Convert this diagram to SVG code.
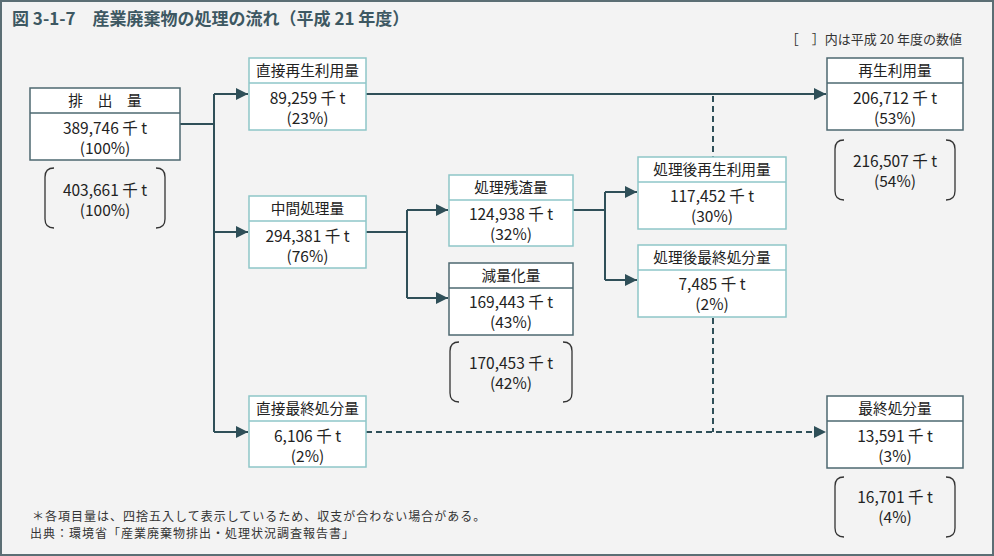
<svg xmlns="http://www.w3.org/2000/svg" width="994" height="556" viewBox="0 0 994 556">
<defs>
<marker id="ah" viewBox="0 0 12 12" refX="12" refY="6" markerWidth="12" markerHeight="12" markerUnits="userSpaceOnUse" orient="auto">
<path d="M0,0 L12,6 L0,12 Z" fill="#2f4f58"/>
</marker>
<style>
text{font-family:"Noto Sans CJK JP","Noto Sans",sans-serif;fill:#222;}
.title{font-size:17px;font-weight:bold;fill:#3d5862;}
.note{font-size:13px;fill:#333;}
.foot{font-size:12px;fill:#333;letter-spacing:1px;}
.hd{font-size:14.7px;text-anchor:middle;}
.v{font-size:15.5px;text-anchor:middle;}
.bl{fill:#fff;stroke:#8ec6c8;stroke-width:1.5;}
.bd{fill:#fff;stroke:#4d6870;stroke-width:1.5;}
.sl{stroke:#8ec6c8;stroke-width:1.5;}
.sd{stroke:#4d6870;stroke-width:1.5;}
.br{fill:none;stroke:#333;stroke-width:1.3;}
.c{fill:none;stroke:#2f4f58;stroke-width:2;}
.d{fill:none;stroke:#2f4f58;stroke-width:2;stroke-dasharray:6,4;}
</style>
</defs>
<rect x="1" y="1" width="992" height="554" fill="#f3f3f3" stroke="#5b6e74" stroke-width="2"/>
<text class="title" x="12" y="25">図 3-1-7　産業廃棄物の処理の流れ（平成 21 年度）</text>
<text class="note" x="962" y="44" text-anchor="end">［　］内は平成 20 年度の数値</text>

<g id="connectors">
<polyline class="c" points="180,124 214,124"/>
<polyline class="c" points="214,94 214,432"/>
<line class="c" x1="214" y1="94" x2="248" y2="94" marker-end="url(#ah)"/>
<line class="c" x1="214" y1="232" x2="248" y2="232" marker-end="url(#ah)"/>
<line class="c" x1="214" y1="432" x2="248" y2="432" marker-end="url(#ah)"/>
<polyline class="c" points="366,232 407,232"/>
<polyline class="c" points="407,210 407,298"/>
<line class="c" x1="407" y1="210" x2="448" y2="210" marker-end="url(#ah)"/>
<line class="c" x1="407" y1="298" x2="448" y2="298" marker-end="url(#ah)"/>
<polyline class="c" points="573,210 605,210"/>
<polyline class="c" points="605,192 605,280"/>
<line class="c" x1="605" y1="192" x2="637" y2="192" marker-end="url(#ah)"/>
<line class="c" x1="605" y1="280" x2="637" y2="280" marker-end="url(#ah)"/>
<line class="c" x1="366" y1="94" x2="826" y2="94" marker-end="url(#ah)"/>
<line class="d" x1="713" y1="96" x2="713" y2="157"/>
<line class="d" x1="713" y1="318" x2="713" y2="432"/>
<line class="d" x1="366" y1="432" x2="826" y2="432" marker-end="url(#ah)"/>
</g>

<g id="haishutsu">
<rect class="bd" x="30" y="88" width="150" height="72"/>
<line class="sd" x1="30" y1="113" x2="180" y2="113"/>
<text class="hd" x="105" y="106">排　出　量</text>
<text class="v" x="105" y="134">389,746 千 t</text>
<text class="v" x="105" y="154">(100%)</text>
</g>
<g id="haishutsu-prev">
<path class="br" d="M54,168 Q45,168 45,177 L45,219 Q45,228 54,228"/>
<path class="br" d="M156,168 Q165,168 165,177 L165,219 Q165,228 156,228"/>
<text class="v" x="105" y="196">403,661 千 t</text>
<text class="v" x="105" y="216">(100%)</text>
</g>

<g id="chokusetsu-saisei">
<rect class="bl" x="249" y="58" width="117" height="72"/>
<line class="sl" x1="249" y1="83" x2="366" y2="83"/>
<text class="hd" x="307.5" y="76">直接再生利用量</text>
<text class="v" x="307.5" y="104">89,259 千 t</text>
<text class="v" x="307.5" y="124">(23%)</text>
</g>

<g id="chukan">
<rect class="bl" x="249" y="196" width="117" height="72"/>
<line class="sl" x1="249" y1="221" x2="366" y2="221"/>
<text class="hd" x="307.5" y="214">中間処理量</text>
<text class="v" x="307.5" y="242">294,381 千 t</text>
<text class="v" x="307.5" y="262">(76%)</text>
</g>

<g id="zansa">
<rect class="bl" x="449" y="175" width="124" height="71"/>
<line class="sl" x1="449" y1="200" x2="573" y2="200"/>
<text class="hd" x="511" y="193">処理残渣量</text>
<text class="v" x="511" y="220">124,938 千 t</text>
<text class="v" x="511" y="240">(32%)</text>
</g>

<g id="genryo">
<rect class="bd" x="449" y="263" width="124" height="72"/>
<line class="sd" x1="449" y1="288" x2="573" y2="288"/>
<text class="hd" x="511" y="281">減量化量</text>
<text class="v" x="511" y="308">169,443 千 t</text>
<text class="v" x="511" y="328">(43%)</text>
</g>
<g id="genryo-prev">
<path class="br" d="M459,342 Q450,342 450,351 L450,393 Q450,402 459,402"/>
<path class="br" d="M563,342 Q572,342 572,351 L572,393 Q572,402 563,402"/>
<text class="v" x="511" y="369">170,453 千 t</text>
<text class="v" x="511" y="389">(42%)</text>
</g>

<g id="shorigo-saisei">
<rect class="bl" x="638" y="157" width="148" height="72"/>
<line class="sl" x1="638" y1="182" x2="786" y2="182"/>
<text class="hd" x="712" y="175">処理後再生利用量</text>
<text class="v" x="712" y="202">117,452 千 t</text>
<text class="v" x="712" y="222">(30%)</text>
</g>

<g id="shorigo-saishu">
<rect class="bl" x="638" y="245" width="148" height="72"/>
<line class="sl" x1="638" y1="270" x2="786" y2="270"/>
<text class="hd" x="712" y="263">処理後最終処分量</text>
<text class="v" x="712" y="290">7,485 千 t</text>
<text class="v" x="712" y="310">(2%)</text>
</g>

<g id="chokusetsu-saishu">
<rect class="bl" x="249" y="396" width="117" height="71"/>
<line class="sl" x1="249" y1="421" x2="366" y2="421"/>
<text class="hd" x="307.5" y="414">直接最終処分量</text>
<text class="v" x="307.5" y="442">6,106 千 t</text>
<text class="v" x="307.5" y="462">(2%)</text>
</g>

<g id="saisei">
<rect class="bd" x="827" y="58" width="136" height="72"/>
<line class="sd" x1="827" y1="83" x2="963" y2="83"/>
<text class="hd" x="895" y="76">再生利用量</text>
<text class="v" x="895" y="104">206,712 千 t</text>
<text class="v" x="895" y="124">(53%)</text>
</g>
<g id="saisei-prev">
<path class="br" d="M844,140 Q835,140 835,149 L835,191 Q835,200 844,200"/>
<path class="br" d="M946,140 Q955,140 955,149 L955,191 Q955,200 946,200"/>
<text class="v" x="895" y="167">216,507 千 t</text>
<text class="v" x="895" y="187">(54%)</text>
</g>

<g id="saishu">
<rect class="bd" x="827" y="396" width="136" height="72"/>
<line class="sd" x1="827" y1="421" x2="963" y2="421"/>
<text class="hd" x="895" y="414">最終処分量</text>
<text class="v" x="895" y="442">13,591 千 t</text>
<text class="v" x="895" y="462">(3%)</text>
</g>
<g id="saishu-prev">
<path class="br" d="M844,477 Q835,477 835,486 L835,528 Q835,537 844,537"/>
<path class="br" d="M946,477 Q955,477 955,486 L955,528 Q955,537 946,537"/>
<text class="v" x="895" y="503">16,701 千 t</text>
<text class="v" x="895" y="523">(4%)</text>
</g>

<text class="foot" x="32" y="521">＊各項目量は、四捨五入して表示しているため、収支が合わない場合がある。</text>
<text class="foot" x="30" y="538">出典：環境省「産業廃棄物排出・処理状況調査報告書」</text>
</svg>
